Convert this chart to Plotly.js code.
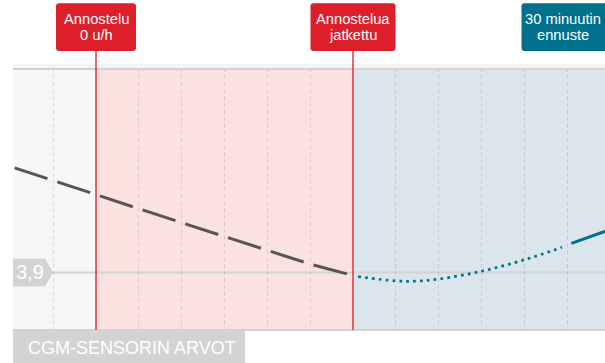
<!DOCTYPE html>
<html>
<head>
<meta charset="utf-8">
<script src="https://cdn.plot.ly/plotly-3.0.1.min.js"></script>
<style>html,body{margin:0;padding:0;background:#fff;}#chart{width:605px;height:363px;}</style>
</head>
<body>
<div id="chart"></div>
<script>
// ---- data (minutes relative to dosing stop, mmol/L) ----
const cgmTime = [-9.5, -5, 0, 5, 10, 15, 20, 25, 29.4];
const cgmValue = [6.0, 5.75, 5.47, 5.18, 4.90, 4.62, 4.35, 4.07, 3.87];
const forecastTime = [30.6, 35, 37.5, 40, 45, 50, 54.4];
const forecastValue = [3.82, 3.734, 3.73, 3.77, 3.928, 4.157, 4.407];
const trendTime = [55.5, 60];
const trendValue = [4.487, 4.76];
const thresholdValue = 3.9;
const thresholdLabel = "3,9";
const eventTimes = [0, 30];
const eventLabels = [["Annostelu", "0 u/h"], ["Annostelua", "jatkettu"]];
const forecastLabel = ["30 minuutin", "ennuste"];
const forecastLabelTime = 54.5;
const sensorLabel = "CGM-SENSORIN ARVOT";

// ---- layout geometry ----
const W = 605, H = 363;
const M = {l: 13, r: 0, t: 68, b: 33};
const plotW = W - M.l - M.r, plotH = H - M.t - M.b;
const xRange = [-9.69, 59.42];
const yRange = [2.75, 8.0];
const pxPerMin = plotW / (xRange[1] - xRange[0]);
const pxPerUnit = plotH / (yRange[1] - yRange[0]);
const pyPaper = py => (H - M.b - py) / plotH;          // pixel y -> paper y
const dMin = px => px / pxPerMin;                      // pixel width -> minutes
const pxToT = px => xRange[0] + (px - M.l) / pxPerMin; // pixel x -> minutes

const FONT = "Liberation Sans, Arial, Helvetica, sans-serif";
const RED = "#dc1f2b", BLUE = "#00708c";

function roundedBox(t0, t1, yTopPx, yBotPx, rPx) {
  const rx = dMin(rPx), ry = rPx / plotH;
  const yt = pyPaper(yTopPx), yb = pyPaper(yBotPx);
  return `M ${t0 + rx},${yt} L ${t1 - rx},${yt} Q ${t1},${yt} ${t1},${yt - ry} ` +
         `L ${t1},${yb + ry} Q ${t1},${yb} ${t1 - rx},${yb} L ${t0 + rx},${yb} ` +
         `Q ${t0},${yb} ${t0},${yb + ry} L ${t0},${yt - ry} Q ${t0},${yt} ${t0 + rx},${yt} Z`;
}

const tagH = 14 / pxPerUnit;
const shapes = [
  // background zones
  {type: "rect", xref: "x", yref: "paper", x0: xRange[0] - 1, x1: eventTimes[0], y0: 0, y1: 1,
   fillcolor: "#f7f7f7", line: {width: 0}, layer: "below"},
  {type: "rect", xref: "x", yref: "paper", x0: eventTimes[0], x1: eventTimes[1], y0: 0, y1: 1,
   fillcolor: "#fce1e1", line: {width: 0}, layer: "below"},
  {type: "rect", xref: "x", yref: "paper", x0: eventTimes[1], x1: xRange[1] + 5, y0: 0, y1: 1,
   fillcolor: "#dbe5ec", line: {width: 0}, layer: "below"},
  // threshold line
  {type: "line", xref: "paper", yref: "y", x0: 0, x1: 1, y0: thresholdValue, y1: thresholdValue,
   line: {color: "#d3d3d3", width: 2}, layer: "between"},
  // top shadow + border, bottom border
  {type: "rect", xref: "paper", yref: "paper", x0: 0, x1: 1, y0: 1, y1: 1 + 4 / plotH,
   fillcolor: "#f4f4f4", line: {width: 0}, layer: "below"},
  {type: "line", xref: "paper", yref: "paper", x0: 0, x1: 1, y0: 1 - 1 / plotH, y1: 1 - 1 / plotH,
   line: {color: "#d2d2d2", width: 2}},
  {type: "line", xref: "paper", yref: "paper", x0: 0, x1: 1, y0: 0, y1: 0,
   line: {color: "#d2d2d2", width: 2}},
  // threshold tag
  {type: "path", xref: "paper", yref: "y",
   path: `M 0,${thresholdValue + tagH} L ${32 / plotW},${thresholdValue + tagH} ` +
         `L ${40 / plotW},${thresholdValue} L ${32 / plotW},${thresholdValue - tagH} ` +
         `L 0,${thresholdValue - tagH} Z`,
   fillcolor: "#d3d3d3", line: {width: 0}},
  // sensor label box
  {type: "rect", xref: "paper", yref: "paper", x0: 0, x1: (245 - M.l) / plotW, y0: -M.b / plotH - 0.01, y1: 0,
   fillcolor: "#d3d3d3", line: {width: 0}}
];

// event markers and boxes
const boxHalf = [40, 42.5];
eventTimes.forEach((t, i) => {
  shapes.push({type: "line", xref: "x", yref: "paper", x0: t, x1: t, y0: 0, y1: pyPaper(51),
    line: {color: "#e2343d", width: 1.5}});
  shapes.push({type: "path", xref: "x", yref: "paper",
    path: roundedBox(t - dMin(boxHalf[i]), t + dMin(boxHalf[i]), 3.3, 51, 3),
    fillcolor: RED, line: {width: 0}});
});
shapes.push({type: "path", xref: "x", yref: "paper",
  path: roundedBox(pxToT(521.5), pxToT(612), 3.3, 51, 3), fillcolor: BLUE, line: {width: 0}});

const annotations = [];
const lineY = [18.8, 35];
function addLabel(t, lines) {
  lines.forEach((s, j) => annotations.push({
    x: t, xref: "x", y: pyPaper(lineY[j]), yref: "paper", text: s, showarrow: false,
    xanchor: "center", yanchor: "middle", font: {family: FONT, size: 14.7, color: "#ffffff"}
  }));
}
eventTimes.forEach((t, i) => addLabel(t, eventLabels[i]));
addLabel(forecastLabelTime, forecastLabel);

annotations.push({x: (30 - M.l) / plotW, xref: "paper", y: thresholdValue, yref: "y", text: thresholdLabel,
  showarrow: false, xanchor: "center", yanchor: "middle", yshift: 1,
  font: {family: FONT, size: 20, color: "#ffffff"}});
annotations.push({x: (26 - M.l) / plotW, xref: "paper", y: pyPaper(347.5), yref: "paper", text: sensorLabel,
  showarrow: false, xanchor: "left", yanchor: "middle", font: {family: FONT, size: 18, color: "#ffffff"}});

const traces = [
  {x: cgmTime, y: cgmValue, type: "scatter", mode: "lines",
   line: {color: "#555555", width: 3, dash: "34.6px,10.3px"}, hoverinfo: "skip"},
  {x: forecastTime, y: forecastValue, type: "scatter", mode: "lines",
   line: {color: BLUE, width: 2.7, dash: "2.7px,4.2px", shape: "spline", smoothing: 1}, hoverinfo: "skip"},
  {x: trendTime, y: trendValue, type: "scatter", mode: "lines",
   line: {color: BLUE, width: 3}, hoverinfo: "skip"}
];

const layout = {
  width: W, height: H, margin: M, showlegend: false,
  paper_bgcolor: "#ffffff", plot_bgcolor: "#ffffff",
  xaxis: {range: xRange, tick0: -5, dtick: 5, showgrid: true, gridcolor: "rgba(0,0,0,0.11)",
          gridwidth: 1, griddash: "4px,3px", zeroline: false, showticklabels: false, ticks: "",
          showline: false, fixedrange: true},
  yaxis: {range: yRange, showgrid: false, zeroline: false, showticklabels: false, ticks: "",
          showline: false, fixedrange: true},
  shapes: shapes, annotations: annotations
};

Plotly.newPlot("chart", traces, layout, {displayModeBar: false, staticPlot: true});
</script>
</body>
</html>
